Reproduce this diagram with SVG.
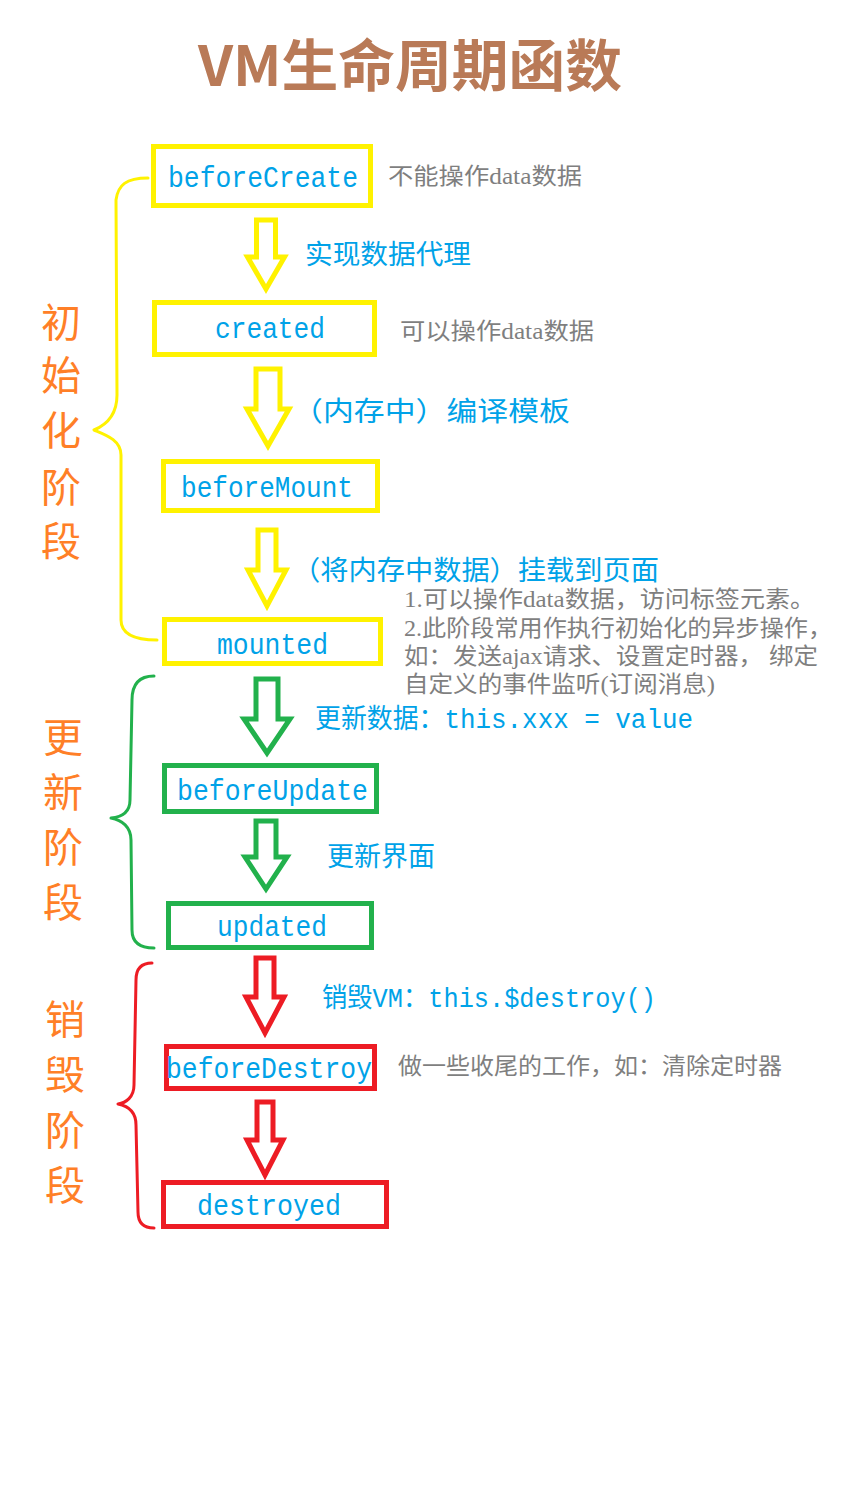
<svg xmlns="http://www.w3.org/2000/svg" width="843" height="1500" viewBox="0 0 843 1500">
<style>
.bg{fill:#ffffff}
.box{fill:none;stroke-width:5}
.y{stroke:#fff200}
.g{stroke:#22b14c}
.r{stroke:#ed1c24}
.arrow{fill:#ffffff;stroke-width:5;stroke-linejoin:miter}
.brace{fill:none;stroke-width:3;stroke-linecap:round;stroke-linejoin:round}
.node{font-family:"Liberation Mono","DejaVu Sans Mono",monospace;font-size:29px;fill:#00a2e8}
.lbl{font-family:"Liberation Mono","Noto Sans CJK SC",monospace;font-size:27px;fill:#00a2e8}
.note{font-family:"Liberation Serif","Noto Sans CJK SC",serif;font-size:23px;fill:#7f7f7f}
.phase{font-family:"Noto Sans CJK SC",sans-serif;font-size:40px;fill:#ff7f27;text-anchor:middle;dominant-baseline:central}
.title{font-family:"Noto Sans CJK SC",sans-serif;font-size:56px;font-weight:bold;fill:#b97a57}
</style>
<rect class="bg" x="0" y="0" width="843" height="1500"/>
<text class="title" x="198" y="86" textLength="424" lengthAdjust="spacingAndGlyphs">VM生命周期函数</text>

<g id="phases">
<text class="phase" x="61" y="320">初</text>
<text class="phase" x="61" y="373">始</text>
<text class="phase" x="61" y="428">化</text>
<text class="phase" x="61" y="485">阶</text>
<text class="phase" x="61" y="539">段</text>
<text class="phase" x="63" y="735">更</text>
<text class="phase" x="63" y="790">新</text>
<text class="phase" x="63" y="845">阶</text>
<text class="phase" x="63" y="900">段</text>
<text class="phase" x="65" y="1017">销</text>
<text class="phase" x="65" y="1072">毁</text>
<text class="phase" x="65" y="1128">阶</text>
<text class="phase" x="65" y="1183">段</text>
</g>

<g id="braces">
<path class="brace y" d="M148 178 C126 178 118 185 116 200 L117 395 C117 415 106 425 94 430 C106 435 121 440 121 455 L121 620 C121 635 135 640 157 640"/>
<path class="brace g" d="M154 676 C138 676 132 685 132 700 L130 800 C130 812 122 817 111 818 C122 820 131 827 131 840 L132 930 C132 942 140 948 154 948"/>
<path class="brace r" d="M152 963 C140 963 136 970 136 980 L134 1085 C134 1097 126 1103 118 1104 C128 1106 136 1112 136 1125 L138 1212 C138 1222 143 1228 154 1228"/>
</g>

<g id="connectors">
<polygon class="arrow y" points="256.5,220 275.5,220 275.5,257 284.5,257 266,289 247.5,257 256.5,257"/>
<polygon class="arrow y" points="256,369 280,369 280,409 289,409 268,446 247,409 256,409"/>
<polygon class="arrow y" points="258,530 276,530 276,570 286,570 267,606 248,570 258,570"/>
<polygon class="arrow g" points="256,679 278,679 278,719 290,719 267,753 244,719 256,719"/>
<polygon class="arrow g" points="256,821 276,821 276,857 287,857 266,889 245,857 256,857"/>
<polygon class="arrow r" points="256,958 274,958 274,997 284,997 265,1033 246,997 256,997"/>
<polygon class="arrow r" points="257,1102 273,1102 273,1140 283,1140 265,1175 247,1140 257,1140"/>
</g>

<g id="n-beforeCreate">
<rect class="box y" x="153.5" y="146.5" width="217" height="59"/>
<text class="node" x="168" y="187" textLength="190" lengthAdjust="spacingAndGlyphs">beforeCreate</text>
</g>
<g id="n-created">
<rect class="box y" x="154.5" y="302.5" width="220" height="52"/>
<text class="node" x="215" y="338" textLength="110" lengthAdjust="spacingAndGlyphs">created</text>
</g>
<g id="n-beforeMount">
<rect class="box y" x="163.5" y="461.5" width="214" height="49"/>
<text class="node" x="181" y="497" textLength="172" lengthAdjust="spacingAndGlyphs">beforeMount</text>
</g>
<g id="n-mounted">
<rect class="box y" x="164.5" y="619.5" width="216" height="44"/>
<text class="node" x="217" y="654" textLength="111" lengthAdjust="spacingAndGlyphs">mounted</text>
</g>
<g id="n-beforeUpdate">
<rect class="box g" x="164.5" y="765.5" width="212" height="46"/>
<text class="node" x="177" y="800" textLength="191" lengthAdjust="spacingAndGlyphs">beforeUpdate</text>
</g>
<g id="n-updated">
<rect class="box g" x="168.5" y="903.5" width="203" height="44"/>
<text class="node" x="217" y="936" textLength="110" lengthAdjust="spacingAndGlyphs">updated</text>
</g>
<g id="n-beforeDestroy">
<rect class="box r" x="166.5" y="1046.5" width="208" height="42"/>
<text class="node" x="166" y="1078" textLength="206" lengthAdjust="spacingAndGlyphs">beforeDestroy</text>
</g>
<g id="n-destroyed">
<rect class="box r" x="163.5" y="1182.5" width="223" height="44"/>
<text class="node" x="197" y="1215" textLength="144" lengthAdjust="spacingAndGlyphs">destroyed</text>
</g>

<g id="labels">
<text class="lbl" x="305" y="264" textLength="166" lengthAdjust="spacingAndGlyphs">实现数据代理</text>
<text class="lbl" x="292" y="421" textLength="278" lengthAdjust="spacingAndGlyphs">（内存中）编译模板</text>
<text class="lbl" x="292" y="580" textLength="367" lengthAdjust="spacingAndGlyphs">（将内存中数据）挂载到页面</text>
<text class="lbl" x="315" y="728" textLength="378" lengthAdjust="spacingAndGlyphs">更新数据：this.xxx = value</text>
<text class="lbl" x="327" y="866" textLength="108" lengthAdjust="spacingAndGlyphs">更新界面</text>
<text class="lbl" x="322" y="1007" textLength="334" lengthAdjust="spacingAndGlyphs">销毁VM：this.$destroy()</text>
</g>

<g id="notes">
<text class="note" x="388" y="184" textLength="194" lengthAdjust="spacingAndGlyphs">不能操作data数据</text>
<text class="note" x="400" y="339" textLength="194" lengthAdjust="spacingAndGlyphs">可以操作data数据</text>
<text class="note" x="404" y="607" textLength="411" lengthAdjust="spacingAndGlyphs">1.可以操作data数据，访问标签元素。</text>
<text class="note" x="404" y="636" textLength="428" lengthAdjust="spacingAndGlyphs">2.此阶段常用作执行初始化的异步操作，</text>
<text class="note" x="404" y="664" textLength="414" lengthAdjust="spacingAndGlyphs">如：发送ajax请求、设置定时器， 绑定</text>
<text class="note" x="404" y="692" textLength="311" lengthAdjust="spacingAndGlyphs">自定义的事件监听(订阅消息)</text>
<text class="note" x="398" y="1074" textLength="384" lengthAdjust="spacingAndGlyphs">做一些收尾的工作，如：清除定时器</text>
</g>
</svg>
